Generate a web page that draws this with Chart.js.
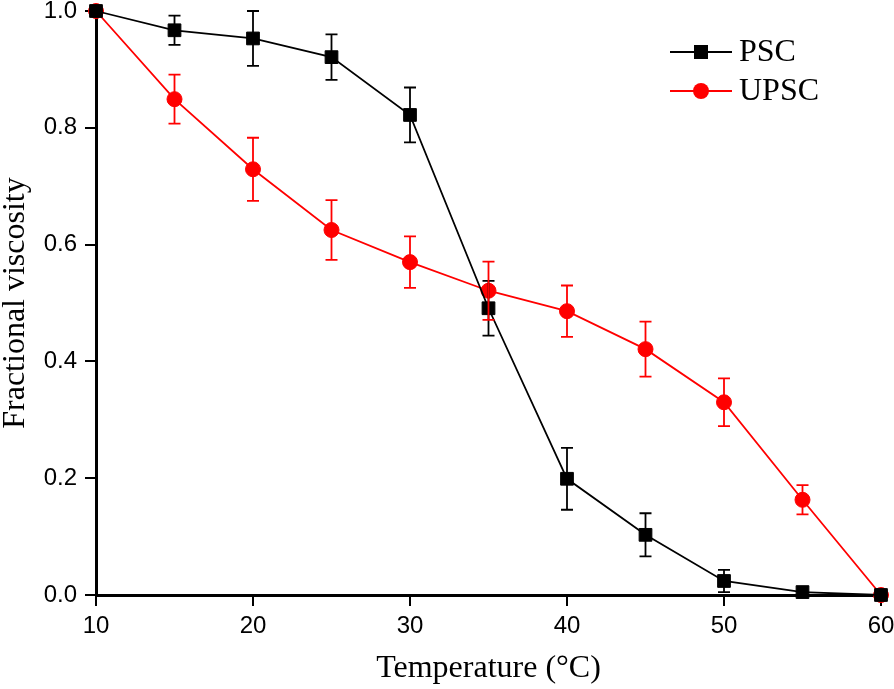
<!DOCTYPE html>
<html>
<head>
<meta charset="utf-8">
<script src="https://cdn.jsdelivr.net/npm/chart.js@4"></script>
<style>
  html, body { margin: 0; padding: 0; background: #fff; }
  #wrap { width: 894px; height: 689px; }
</style>
</head>
<body>
<div id="wrap"><canvas id="viscChart"></canvas></div>
<script>
// temperatures (°C)
const temps = [10, 15, 20, 25, 30, 35, 40, 45, 50, 55, 60];
const xTicks = [10, 20, 30, 40, 50, 60];
const yTicks = [0, 0.2, 0.4, 0.6, 0.8, 1.0];

// fractional viscosity
const psc = [1.0, 0.967, 0.953, 0.921, 0.822, 0.491, 0.199, 0.103, 0.024, 0.005, 0.0];
const pscErr = [0, 0.025, 0.047, 0.039, 0.047, 0.047, 0.053, 0.037, 0.019, 0, 0];
const upsc = [1.0, 0.849, 0.729, 0.625, 0.570, 0.521, 0.486, 0.421, 0.330, 0.163, 0.0];
const upscErr = [0, 0.042, 0.054, 0.051, 0.044, 0.050, 0.044, 0.047, 0.041, 0.025, 0];

const serif = "'Liberation Serif', 'Times New Roman', serif";
const sans = "'Liberation Sans', Arial, sans-serif";

// vertical error bars with caps
const errorBars = {
  id: "errorBars",
  afterDatasetsDraw(chart) {
    const { ctx, scales } = chart;
    chart.data.datasets.forEach(ds => {
      if (!ds.errors) return;
      ctx.save();
      ctx.strokeStyle = ds.borderColor;
      ctx.lineWidth = 1.8;
      ds.data.forEach((p, i) => {
        const e = ds.errors[i];
        if (!e) return;
        const x = scales.x.getPixelForValue(p.x);
        const yTop = scales.y.getPixelForValue(p.y + e);
        const yBot = scales.y.getPixelForValue(p.y - e);
        ctx.beginPath();
        ctx.moveTo(x, yTop); ctx.lineTo(x, yBot);
        ctx.moveTo(x - 6, yTop); ctx.lineTo(x + 6, yTop);
        ctx.moveTo(x - 6, yBot); ctx.lineTo(x + 6, yBot);
        ctx.stroke();
      });
      ctx.restore();
    });
  }
};

// legend inside the plot, line + marker style
const insideLegend = {
  id: "insideLegend",
  afterDraw(chart) {
    const { ctx } = chart;
    ctx.save();
    chart.data.datasets.forEach((ds, i) => {
      const y = 52 + i * 39;
      ctx.strokeStyle = ds.borderColor;
      ctx.lineWidth = 1.8;
      ctx.beginPath();
      ctx.moveTo(670, y); ctx.lineTo(732, y);
      ctx.stroke();
      ctx.fillStyle = ds.borderColor;
      if (ds.pointStyle === "rect") {
        ctx.fillRect(701 - 7, y - 7, 14, 14);
      } else {
        ctx.beginPath();
        ctx.arc(701, y, 8, 0, Math.PI * 2);
        ctx.fill();
      }
      ctx.fillStyle = "#000";
      ctx.font = "32px " + serif;
      ctx.textBaseline = "middle";
      ctx.fillText(ds.label, 739, y + 1);
    });
    ctx.restore();
  }
};

const toPoints = vals => vals.map((v, i) => ({ x: temps[i], y: v }));

new Chart(document.getElementById("viscChart").getContext("2d"), {
  type: "line",
  data: {
    datasets: [
      {
        label: "PSC",
        data: toPoints(psc),
        errors: pscErr,
        borderColor: "#000000",
        backgroundColor: "#000000",
        borderWidth: 1.8,
        pointStyle: "rect",
        pointRadius: 9,
        pointBorderWidth: 1,
        clip: false,
      },
      {
        label: "UPSC",
        data: toPoints(upsc),
        errors: upscErr,
        borderColor: "#ff0000",
        backgroundColor: "#ff0000",
        borderWidth: 1.8,
        pointStyle: "circle",
        pointRadius: 7.5,
        pointBorderWidth: 1,
        clip: false,
      },
    ],
  },
  options: {
    responsive: true,
    maintainAspectRatio: false,
    animation: false,
    layout: { padding: { top: 11, right: 13, left: 0, bottom: 0 } },
    plugins: {
      legend: { display: false },
      tooltip: { enabled: false },
    },
    scales: {
      x: {
        type: "linear",
        min: 10,
        max: 60,
        afterBuildTicks: scale => { scale.ticks = xTicks.map(v => ({ value: v })); },
        afterFit: scale => {
          scale.height = 94;
          scale.paddingLeft = 0;
          scale.paddingRight = 0;
        },
        border: { display: true, color: "#000", width: 3 },
        grid: { drawOnChartArea: false, drawTicks: true, tickLength: 11, color: "#000", lineWidth: 2 },
        ticks: { color: "#000", font: { family: sans, size: 24 }, padding: 6, maxRotation: 0 },
        title: {
          display: true,
          text: "Temperature (°C)",
          color: "#000",
          font: { family: serif, size: 32, lineHeight: 1 },
          padding: { top: 0, bottom: 4 },
        },
      },
      y: {
        min: 0,
        max: 1.0,
        afterBuildTicks: scale => { scale.ticks = yTicks.map(v => ({ value: v })); },
        afterFit: scale => {
          scale.width = 96;
          scale.paddingTop = 0;
          scale.paddingBottom = 0;
        },
        border: { display: true, color: "#000", width: 3 },
        grid: { drawOnChartArea: false, drawTicks: true, tickLength: 11, color: "#000", lineWidth: 2 },
        ticks: {
          color: "#000",
          font: { family: sans, size: 24 },
          padding: 8,
          callback: v => v.toFixed(1),
        },
        title: {
          display: true,
          text: "Fractional viscosity",
          color: "#000",
          font: { family: serif, size: 32, lineHeight: 1 },
          padding: { top: 0, bottom: 0 },
        },
      },
    },
  },
  plugins: [errorBars, insideLegend],
});
</script>
</body>
</html>
